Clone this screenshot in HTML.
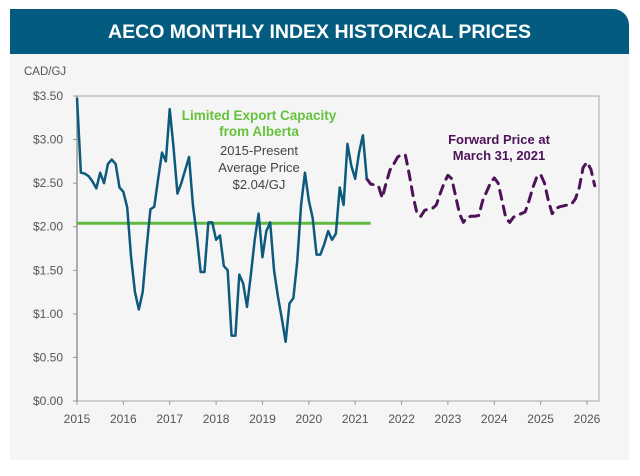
<!DOCTYPE html>
<html><head><meta charset="utf-8">
<style>
html,body{margin:0;padding:0;background:#fff;}
body{width:640px;height:476px;position:relative;overflow:hidden;font-family:"Liberation Sans",sans-serif;}
.card{position:absolute;left:10px;top:9px;width:619px;height:451px;background:#f5f5f5;border-top-right-radius:16px;}
.banner{position:absolute;left:10px;top:9px;width:619px;height:45px;background:#035c80;border-top-right-radius:16px;color:#fff;font-weight:bold;font-size:19.5px;text-align:center;line-height:47px;}
svg{position:absolute;left:0;top:0;}
</style></head>
<body>
<div class="card"></div>
<div class="banner">AECO MONTHLY INDEX HISTORICAL PRICES</div>
<svg id="chart" width="640" height="476"></svg>
<script>
const yTicks=[0,0.5,1,1.5,2,2.5,3,3.5];
const yTickLabels=["$0.00","$0.50","$1.00","$1.50","$2.00","$2.50","$3.00","$3.50"];
const years=[2015,2016,2017,2018,2019,2020,2021,2022,2023,2024,2025,2026];
const historical=[3.48,2.62,2.61,2.58,2.52,2.44,2.62,2.50,2.72,2.77,2.72,2.45,
2.40,2.22,1.65,1.25,1.05,1.25,1.75,2.20,2.23,2.55,2.85,2.75,
3.35,2.90,2.38,2.50,2.65,2.80,2.25,1.90,1.48,1.48,2.05,2.05,
1.85,1.90,1.55,1.50,0.75,0.75,1.45,1.35,1.08,1.45,1.85,2.15,
1.65,1.95,2.05,1.50,1.20,0.95,0.68,1.12,1.18,1.60,2.25,2.62,
2.30,2.10,1.68,1.68,1.80,1.95,1.85,1.92,2.45,2.25,2.95,2.70,
2.55,2.85,3.05,2.55];
const forwardStart=75;
const forward=[2.55,2.49,2.48,2.47,2.33,2.50,2.65,2.72,2.80,2.83,2.82,2.60,2.35,2.15,2.12,2.19,2.20,2.21,2.25,2.38,2.50,2.59,2.55,2.35,2.15,2.05,2.11,2.12,2.12,2.13,2.30,2.40,2.50,2.56,2.50,2.30,2.10,2.05,2.11,2.13,2.15,2.17,2.30,2.45,2.57,2.60,2.50,2.30,2.15,2.21,2.23,2.24,2.25,2.26,2.32,2.45,2.68,2.74,2.66,2.47];
const avgPrice=2.04;
const avgEndMonth=76;

const X0=77,X1=599,Y0=401,Y1=96;
const monthPx=(587-77)/(11*12);
const xm=m=>X0+m*monthPx;
const xy=y=>xm((y-2015)*12);
const yv=v=>Y0-(v/3.5)*(Y0-Y1);
const svg=document.getElementById('chart');
const NS='http://www.w3.org/2000/svg';
function mk(t,a,txt){const e=document.createElementNS(NS,t);for(const k in a)e.setAttribute(k,a[k]);if(txt!==undefined)e.textContent=txt;svg.appendChild(e);return e;}
const tf='font-family:"Liberation Sans",sans-serif';

let fr=mk('rect',{x:X0,y:Y1,width:X1-X0,height:Y0-Y1,fill:'none',stroke:'#b3b3b3','stroke-width':1.2});


let ya=mk('line',{x1:X0,y1:Y1,x2:X0,y2:Y0,stroke:'#999','stroke-width':1.5});



yTicks.forEach((v,i)=>{
  let t=mk('line',{x1:73,x2:X0,y1:yv(v),y2:yv(v),stroke:'#999','stroke-width':1});
  
  
  let l=mk('text',{x:63,y:yv(v)+4,'text-anchor':'end','font-size':12,fill:'#555',style:tf},yTickLabels[i]);
  
  
});
years.forEach(y=>{
  let t=mk('line',{x1:xy(y),x2:xy(y),y1:Y0,y2:Y0+4,stroke:'#999','stroke-width':1});
  
  
  let l=mk('text',{x:xy(y),y:Y0+22,'text-anchor':'middle','font-size':12,fill:'#555',style:tf},String(y));
  
  
});
let yt=mk('text',{x:24,y:75,'font-size':11.5,fill:'#555',style:tf},'CAD/GJ');



let av=mk('line',{x1:X0,x2:xm(avgEndMonth),y1:yv(avgPrice),y2:yv(avgPrice),stroke:'#5fba3e','stroke-width':3});



let fp=mk('polyline',{points:forward.map((v,i)=>xm(forwardStart+i)+','+yv(v)).join(' '),fill:'none',stroke:'#4e1259','stroke-width':3,'stroke-dasharray':'9,7','stroke-linejoin':'round','stroke-linecap':'round'});


let hp=mk('polyline',{points:historical.map((v,i)=>xm(i)+','+yv(v)).join(' '),fill:'none',stroke:'#0d5a7c','stroke-width':2.5,'stroke-linejoin':'round'});



let a1=mk('text',{x:259,y:120,'text-anchor':'middle','font-size':13.5,'font-weight':'bold',fill:'#64c23c',style:tf},'Limited Export Capacity');


let a2=mk('text',{x:259,y:136,'text-anchor':'middle','font-size':13.5,'font-weight':'bold',fill:'#64c23c',style:tf},'from Alberta');


['2015-Present','Average Price','$2.04/GJ'].forEach((s,i)=>{
  let t=mk('text',{x:259,y:155+i*17,'text-anchor':'middle','font-size':13,fill:'#444',style:tf},s);
  
  
});
['Forward Price at','March 31, 2021'].forEach((s,i)=>{
  let t=mk('text',{x:499,y:144+i*16,'text-anchor':'middle','font-size':13,'font-weight':'bold',fill:'#4e1259',style:tf},s);
  
  
});
</script>
</body></html>
